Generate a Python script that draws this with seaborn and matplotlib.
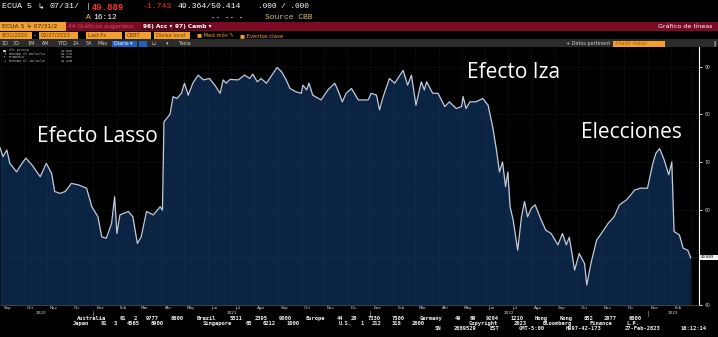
import matplotlib
matplotlib.use("Agg")
import matplotlib.pyplot as plt
import matplotlib.dates as mdates
import matplotlib.transforms as mtransforms
from matplotlib.patches import Rectangle
import pandas as pd
import seaborn as sns

# ---------------- data ----------------
dates = [
    "2020-08-31", "2020-09-04", "2020-09-09", "2020-09-13", "2020-09-22", "2020-09-26",
    "2020-10-04", "2020-10-12", "2020-10-23", "2020-10-31", "2020-11-07", "2020-11-11",
    "2020-11-18", "2020-11-25", "2020-12-03", "2020-12-12", "2020-12-23", "2020-12-30",
    "2021-01-07", "2021-01-12", "2021-01-18", "2021-01-25", "2021-01-29", "2021-02-01",
    "2021-02-05", "2021-02-16", "2021-02-22", "2021-02-28", "2021-03-05", "2021-03-12",
    "2021-03-21", "2021-03-30", "2021-04-02", "2021-04-04", "2021-04-12", "2021-04-16",
    "2021-04-21", "2021-04-27", "2021-05-01", "2021-05-06", "2021-05-12", "2021-05-19",
    "2021-05-26", "2021-06-03", "2021-06-10", "2021-06-17", "2021-06-21", "2021-06-25",
    "2021-06-30", "2021-07-11", "2021-07-19", "2021-07-26", "2021-07-30", "2021-08-05",
    "2021-08-10", "2021-08-17", "2021-08-31", "2021-09-06", "2021-09-12", "2021-09-17",
    "2021-09-25", "2021-10-02", "2021-10-04", "2021-10-09", "2021-10-12", "2021-10-17",
    "2021-10-28", "2021-11-06", "2021-11-15", "2021-11-19", "2021-11-25", "2021-11-30",
    "2021-12-07", "2021-12-16", "2021-12-29", "2022-01-02", "2022-01-09", "2022-01-13",
    "2022-01-17", "2022-01-26", "2022-02-02", "2022-02-13", "2022-02-19", "2022-02-24",
    "2022-03-02", "2022-03-09", "2022-03-13", "2022-03-16", "2022-03-24", "2022-03-31",
    "2022-04-09", "2022-04-15", "2022-04-24", "2022-05-01", "2022-05-03", "2022-05-07",
    "2022-05-12", "2022-05-20", "2022-05-29", "2022-06-05", "2022-06-11", "2022-06-16",
    "2022-06-20", "2022-06-24", "2022-06-28", "2022-07-01", "2022-07-04", "2022-07-08",
    "2022-07-14", "2022-07-19", "2022-07-23", "2022-07-27", "2022-08-01", "2022-08-06",
    "2022-08-14", "2022-08-20", "2022-08-27", "2022-09-05", "2022-09-11", "2022-09-16",
    "2022-09-20", "2022-09-27", "2022-10-03", "2022-10-10", "2022-10-13", "2022-10-19",
    "2022-10-26", "2022-11-03", "2022-11-10", "2022-11-18", "2022-11-25", "2022-12-04",
    "2022-12-08", "2022-12-15", "2022-12-23", "2023-01-01", "2023-01-08", "2023-01-12",
    "2023-01-17", "2023-01-23", "2023-01-29", "2023-02-02", "2023-02-05", "2023-02-12",
    "2023-02-17", "2023-02-23", "2023-02-27",
]
prices = [
    73.0, 71.1, 72.5, 69.7, 67.9, 69.0,
    70.8, 69.4, 66.9, 69.7, 67.6, 63.8,
    63.4, 63.8, 65.5, 65.2, 64.5, 60.6,
    58.5, 54.3, 54.0, 57.1, 62.7, 55.0,
    58.9, 59.6, 58.5, 52.9, 54.3, 59.6,
    58.9, 60.6, 59.9, 78.4, 80.0, 83.7,
    83.3, 84.4, 86.5, 84.0, 86.5, 88.2,
    87.2, 87.5, 86.1, 84.4, 87.2, 86.5,
    87.3, 87.2, 88.2, 87.5, 88.4, 86.8,
    87.5, 86.5, 89.8, 88.9, 87.2, 85.4,
    84.7, 84.4, 86.1, 85.1, 86.5, 84.0,
    83.0, 85.1, 86.5, 85.1, 82.6, 84.4,
    85.4, 83.0, 83.0, 84.4, 84.0, 80.9,
    83.3, 87.5, 86.5, 89.2, 86.1, 88.2,
    81.9, 86.8, 85.1, 86.8, 84.4, 84.4,
    81.6, 82.6, 81.2, 81.6, 83.7, 81.2,
    82.6, 82.6, 83.3, 81.9, 77.4, 72.5,
    67.9, 70.0, 64.8, 67.9, 60.6, 57.8,
    51.5, 58.5, 61.7, 58.5, 60.3, 61.0,
    57.8, 55.7, 55.0, 52.6, 55.0, 52.6,
    54.2, 47.3, 50.8, 48.7, 44.2, 49.1,
    53.6, 55.4, 57.1, 58.5, 61.0, 62.0,
    62.7, 64.1, 64.5, 64.5, 69.7, 71.8,
    72.8, 70.4, 67.3, 70.0, 55.4, 54.7,
    51.9, 51.5, 49.9,
]

month_names = ["Ene", "Feb", "Mar", "Abr", "May", "Jun",
               "Jul", "Ago", "Sep", "Oct", "Nov", "Dic"]
year_labels = ["2020", "2021", "2022", "2023"]
year_label_dates = ["2020-10-24", "2021-07-02", "2022-07-02", "2023-02-04"]
y_ticks = [40, 60, 70, 80, 90]
last_price = "49.889"
legend_rows = [("\u25A0", "Últ precio", "49.889"),
               ("\u2191", "Máximo el 08/31/21", "89.776"),
               ("+", "Promedio", "73.552"),
               ("\u2193", "Mínimo el 10/13/22", "44.230")]
annotations = ["Efecto Lasso", "Efecto Iza", "Elecciones"]
footer_lines = [
    [(69, "Australia 61 2 9777 8600 Brazil 5511 2395 9000 Europe 44 20 7330 7500 "
          "Germany 49 69 9204 1210 Hong Kong 852 2977 6000")],
    [(69, "Japan 81 3 4565 8900"), (195, "Singapore 65 6212 1000"),
     (335, "U.S. 1 212 318 2000"), (461, "Copyright 2023 Bloomberg Finance L.P.")],
    [(433, "SN 2089529 EST  GMT-5:00 H997-42-173 27-Feb-2023 16:12:14")],
]

df = pd.DataFrame({"fecha": pd.to_datetime(dates), "precio": prices})

# ---------------- figure ----------------
W, H = 718, 337
fig = plt.figure(figsize=(W / 100, H / 100), dpi=100, facecolor="black")
MONO = ["Liberation Mono", "DejaVu Sans Mono"]
SANS = ["DejaVu Sans"]


def fx(x):
    return x / W


def fy(y):
    return 1 - y / H


def rect(x, y, w, h, color):
    fig.add_artist(Rectangle((fx(x), fy(y + h)), w / W, h / H,
                             transform=fig.transFigure, facecolor=color,
                             edgecolor="none", lw=0))


def txt(x, y, s, color="white", size=6.0, family=None, ha="left", **kw):
    fig.text(fx(x), fy(y), s, color=color, fontsize=size,
             family=family or MONO, ha=ha, va="center", **kw)


def spaced(x0, y, s, pitch=4.92, size=4.0, color="#f0f0f0"):
    """monospace line with a wide character pitch: each word centred on its cell span"""
    idx = 0
    for word in s.split(" "):
        if word:
            cx = x0 + (idx + len(word) / 2) * pitch
            txt(cx, y, word, color=color, size=size, family=["DejaVu Sans Mono"],
                ha="center", weight="bold")
        idx += len(word) + 1


# header row 1
txt(2, 7, "ECUA 5", size=6.0)
txt(37, 7, "\u21B3", size=5.5, family=SANS)
txt(50, 7, "07/31/", size=6.0)
txt(86, 7, "|", color="#e8e8e8", size=6.0)
txt(92, 7, "49.889", color="#ff3030", size=6.4, weight="bold")
txt(143, 7, "-1.743", color="#ff3030", size=5.9)
txt(178, 7, "49.364/50.414", size=5.9)
txt(258, 7, ".000 / .000", size=5.6)
# header row 2
txt(86, 17.5, "A", color="#f2c94c", size=5.8)
txt(93, 17.5, "16:12", size=5.8)
txt(211, 17.5, "-- -- -", size=5.5)
txt(265, 17.5, "Source CBB", color="#d8c070", size=5.8)

# row 3 red bar
rect(0, 22, W, 9, "#7c0a22")
rect(0, 22, 66, 9, "#f0a030")
txt(2, 26.5, "ECUA 5 \u21B3 07/31/2", color="#402000", size=4.4, family=SANS)
txt(68, 26.5, "44 Gráficos sugeridos", color="#c0506a", size=4.3, family=SANS)
rect(141, 23, 30, 7, "#5a0618")
txt(143, 26.5, "96) Acc \u25BE", size=4.2, family=SANS, weight="bold")
rect(173, 23, 37, 7, "#5a0618")
txt(175, 26.5, "97) Camb \u25BE", size=4.2, family=SANS, weight="bold")
txt(713, 26.5, "Gráfico de líneas", size=4.6, family=SANS, ha="right")

# row 4 input boxes
for (x0, w0, s) in [(0, 32, "8/31/2020"), (39, 39, "02/27/2023"), (86, 36, "Last Px"),
                    (125, 26, "CBBT"), (154, 36, "Divisa local")]:
    rect(x0, 32, w0, 6.5, "#f0a030")
    txt(x0 + 2, 35.3, s, color="#6a3a00", size=3.7, family=SANS)
txt(34, 35.3, "-", size=3.7, family=SANS)
txt(197, 35.3, "\u25A0 Med móv \u270E", color="#f0a030", size=3.8, family=SANS)
txt(240, 35.3, "\u25A0 Eventos clave", color="#f0a030", size=3.8, family=SANS)

# row 5 toolbar
rect(0, 39.5, W, 7.5, "#2b2b2b")
for (x0, s) in [(1, "1D"), (13, "3D"), (27, "1M"), (42, "6M"), (57, "YTD"),
                (72, "1A"), (86, "5A"), (98, "Máx")]:
    txt(x0, 43.3, s, color="#d0d0d0", size=3.5, family=SANS)
rect(112, 40.5, 25, 6, "#2060c0")
txt(114, 43.3, "Diario \u25BE", size=3.5, family=SANS)
rect(139, 40.5, 8, 6, "#2060c0")
txt(152, 43.3, "\u2294", color="#d0d0d0", size=3.6, family=SANS)
txt(166, 43.3, "\u25BE", color="#d0d0d0", size=3.6, family=SANS)
txt(178, 43.3, "Tabla", color="#d0d0d0", size=3.5, family=SANS)
txt(566, 43.3, "+ Datos pertinent", color="#d0d0d0", size=3.5, family=SANS)
rect(613, 40.5, 52, 6, "#f0a030")
txt(615, 43.3, "Añadir datos", color="#b06000", size=3.5, family=SANS)
txt(713, 43.3, "\u2016", color="#d0d0d0", size=3.6, family=SANS)

# ---------------- chart ----------------
ax = fig.add_axes([fx(0), fy(305), fx(699), (305 - 47) / H])
ax.set_facecolor("black")
ax.fill_between(df["fecha"], df["precio"], 40, color="#0b2444", lw=0, zorder=1)
sns.lineplot(data=df, x="fecha", y="precio", ax=ax, color="#c2ccd9",
             linewidth=0.9, zorder=3)

xmin, xmax = pd.Timestamp("2020-08-31"), pd.Timestamp("2023-03-09 20:00")
ax.set_xlim(xmin, xmax)
ax.set_ylim(40, 94.1)

month_starts = pd.date_range("2020-09-01", "2023-03-01", freq="MS")
for d in month_starts:
    ax.axvline(d, color="#3a5070", lw=0.45, ls=(0, (1, 1.5)), alpha=0.5, zorder=2)
for v in [50, 60, 70, 80, 90]:
    ax.axhline(v, color="#3a5070", lw=0.45, ls=(0, (1, 1.5)), alpha=0.5, zorder=2)

label_dates = month_starts[:-1] + pd.Timedelta(days=9)
ax.xaxis.set_major_locator(matplotlib.ticker.FixedLocator(mdates.date2num(label_dates)))
ax.xaxis.set_major_formatter(matplotlib.ticker.FixedFormatter(
    [month_names[d.month - 1] for d in label_dates]))
ax.tick_params(axis="x", length=0, pad=0.9, labelsize=3.0, labelcolor="#d8d8d8")
for lab in ax.get_xticklabels():
    lab.set_family(SANS)

ax.yaxis.tick_right()
ax.set_yticks(y_ticks)
ax.set_yticklabels([str(t) for t in y_ticks])
ax.tick_params(axis="y", length=2.5, width=0.6, color="white", pad=1.5,
               labelsize=3.3, labelcolor="#d8d8d8")
for lab in ax.get_yticklabels():
    lab.set_family(SANS)
ax.set_xlabel("")
ax.set_ylabel("")
for side in ["top", "left"]:
    ax.spines[side].set_visible(False)
ax.spines["bottom"].set_color("#555555")
ax.spines["bottom"].set_linewidth(0.5)
ax.spines["right"].set_color("white")
ax.spines["right"].set_linewidth(0.8)
ax.grid(False)

# year labels & separators
btrans = mtransforms.blended_transform_factory(ax.transData, fig.transFigure)
for d, s in zip(year_label_dates, year_labels):
    ax.text(pd.Timestamp(d), fy(312.6), s, transform=btrans, ha="center", va="center",
            fontsize=3.0, color="#d8d8d8", family=SANS)
for d in ["2021-01-01", "2022-01-01", "2023-01-01"]:
    ax.plot([pd.Timestamp(d)] * 2, [fy(311), fy(315.5)], transform=btrans,
            color="#888888", lw=0.5, clip_on=False)

# price tag
rect(700, 254.5, 18, 5.5, "#f4f4f4")
txt(701, 257.2, last_price, color="black", size=2.7, family=SANS)

# legend box
for i, (sym, name, val) in enumerate(legend_rows):
    y = 50.5 + i * 3.4
    txt(3, y, sym, color="#e0e0e0", size=2.3, family=SANS)
    txt(9, y, name, color="#d0d0d0", size=2.3)
    txt(73, y, val, color="#d0d0d0", size=2.3, ha="right")

# annotations
ANN = ["Open Sans", "DejaVu Sans"]
for s, (x0, y0) in zip(annotations, [(37, 137), (467, 72), (581, 132)]):
    fig.text(fx(x0), fy(y0), s, color="white", fontsize=15, family=ANN,
             ha="left", va="center")

# footer
for line, y in zip(footer_lines, [318.6, 323.6, 328.6]):
    for x0, s in line:
        spaced(x0, y, s)

fig.savefig("out.png", dpi=100, facecolor="black")
